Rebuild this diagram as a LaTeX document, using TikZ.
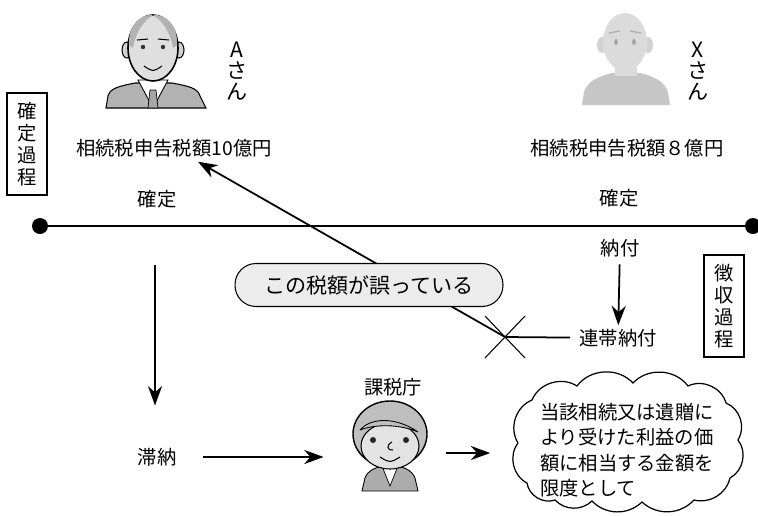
\documentclass[tikz,border=0pt]{standalone}
\usepackage{fontspec}
\setmainfont{Noto Sans CJK JP}
\usetikzlibrary{arrows.meta,positioning}

\tikzset{
  lbl/.style={font=\fontsize{11}{13}\selectfont, inner sep=2pt},
  tate/.style={align=center, font=\fontsize{12}{12}\selectfont, inner sep=0pt},
  tatebox/.style={draw, line width=0.8pt, align=center, minimum width=0.8cm,
    minimum height=2.04cm, inner sep=0pt, font=\fontsize{11}{12.4}\selectfont},
  arr/.style={line width=1pt, -{Stealth[length=11pt, width=8pt, inset=3.5pt]}},
  dot/.style={circle, fill=black, minimum size=0.32cm, inner sep=0pt},
  pill/.style={draw, line width=0.6pt, fill=gray!15, rounded corners=0.42cm,
    minimum width=5.36cm, minimum height=0.86cm, font=\fontsize{12}{14}\selectfont},
  fukidashi/.style={align=left, inner sep=0pt, font=\fontsize{11}{14.5}\selectfont},
}

\begin{document}
\begin{tikzpicture}[x=0.02cm, y=-0.02cm]
  \useasboundingbox (0,0) rectangle (758,515);

  % --- A san
  \fill[gray!60, draw=black, line width=0.6pt] (106,108) -- (108,96) .. controls (110,88) and (120,86) .. (135,83)
    -- (172,83) .. controls (188,86) and (198,88) .. (200,96) -- (206,108) -- cycle;
  \fill[white, draw=black, line width=0.5pt] (138,80) -- (153,108) -- (168,80) -- cycle;
  \fill[gray!70, draw=black, line width=0.4pt] (150,90) -- (156,90) -- (158,108) -- (148,108) -- cycle;
  \draw[fill=gray!35, line width=0.6pt] (127,50) ellipse (5 and 8); \draw[fill=gray!35, line width=0.6pt] (179,50) ellipse (5 and 8);
  \draw[fill=gray!25, line width=0.9pt] (153,48) ellipse (25 and 33);
  \fill[gray!60] (129,45) .. controls (128,25) and (140,14) .. (153,15) .. controls (145,20) and (136,30) .. (133,48) -- cycle;
  \fill[gray!60] (177,45) .. controls (178,25) and (166,14) .. (153,15) .. controls (161,20) and (170,30) .. (173,48) -- cycle;
  \fill[black!80] (143,47) circle (2.2); \fill[black!80] (163,47) circle (2.2);
  \draw[line width=0.6pt] (137,40) -- (148,39); \draw[line width=0.6pt] (158,39) -- (169,40);
  \draw[line width=0.6pt] (144,66) .. controls (153,72) .. (162,66);
  \node[tate] (nameA) at (237,71) {A\\さ\\ん};

  % --- X san
  \fill[gray!45] (582,105) -- (584,92) .. controls (588,80) and (600,76) .. (612,73)
    -- (640,73) .. controls (652,76) and (664,80) .. (668,92) -- (670,105) -- cycle;
  \fill[gray!28] (615,60) rectangle (637,76);
  \fill[gray!35] (602,45) ellipse (5 and 8); \fill[gray!35] (648,45) ellipse (5 and 8);
  \fill[gray!28] (625,42) ellipse (22 and 29);
  \fill[gray!75] (616,42) ellipse (1.8 and 3); \fill[gray!75] (634,42) ellipse (1.8 and 3);
  \draw[gray!60, line width=0.8pt] (609,33) -- (620,31); \draw[gray!60, line width=0.8pt] (630,31) -- (641,33);
  \node[tate] (nameX) at (698,71) {X\\さ\\ん};

  % --- kazeicho
  \fill[gray!65, draw=black, line width=0.5pt] (362,491) -- (365,478) .. controls (368,470) and (375,468) .. (382,466)
    -- (398,466) .. controls (405,468) and (412,470) .. (415,478) -- (418,491) -- cycle;
  \fill[white, draw=black, line width=0.4pt] (382,466) -- (390,486) -- (398,466) -- cycle;
  \draw[fill=gray!50, line width=0.8pt] (390,434) ellipse (37 and 33);
  \draw[fill=gray!22, line width=0.6pt] (390,446) ellipse (29 and 23);
  \draw[fill=gray!50, line width=0.5pt] (360,430) .. controls (370,418) and (395,416) .. (418,432) .. controls (400,424) and (375,424) .. (360,430);
  \fill[black!85] (373,440) circle (3); \fill[black!85] (406,440) circle (3);
  \draw[line width=0.6pt] (392,442) .. controls (386,445) and (387,451) .. (393,450);
  \draw[line width=0.6pt] (380,457) .. controls (390,463) .. (400,457);
  \node[minimum width=1.8cm, minimum height=1.8cm] (kazei) at (390,445) {};
  \node[lbl] (kazeiLbl) at (393,387) {課税庁};

  % --- kakutei line
  \node[tatebox] (kakuteiKatei) at (27,144) {確\\定\\過\\程};
  \node[tatebox] (choshuKatei) at (724,306) {徴\\収\\過\\程};
  \node[lbl] (taxA) at (174,148) {相続税申告税額10億円};
  \node[lbl] (taxX) at (627,148) {相続税申告税額８億円};
  \node[lbl] (kakuteiA) at (157,199) {確定};
  \node[lbl] (kakuteiX) at (619,198) {確定};
  \node[dot] (dotL) at (40,226) {};
  \node[dot] (dotR) at (753,226) {};
  \draw[line width=1.5pt] (dotL) -- (dotR);

  % --- choshu side
  \node[lbl] (nofu) at (620,248) {納付};
  \node[lbl] (rentai) at (618,338) {連帯納付};
  \draw[arr, shorten <=2pt] (nofu) -- (rentai);
  \coordinate (cut) at (505,337);
  \draw[line width=1pt, shorten >=3pt] (cut) -- (rentai);
  \draw[line width=0.6pt] (cut) +(-20,-21) -- +(20,21) (cut) +(-20,21) -- +(20,-21);
  \draw[arr, shorten >=1pt] (cut) -- (taxA);
  \node[pill] (ayamari) at (369,285) {この税額が誤っている};

  % --- tainou
  \coordinate (splitA) at (155,265);
  \node[lbl] (tainou) at (157,457) {滞納};
  \draw[arr, shorten >=22pt] (splitA) -- (splitA |- tainou.north);
  \draw[arr, shorten <=13pt, shorten >=12pt] (tainou) -- (kazei.west |- tainou);

  % cloud round the limit text
  \draw[line width=0.7pt] (518,443) to[bend left=50] (532,400) to[bend left=50] (577,386)
    to[bend left=50] (633,383) to[bend left=50] (688,386) to[bend left=50] (726,403)
    to[bend left=50] (738,440) to[bend left=50] (730,478) to[bend left=45] (694,500)
    to[bend left=45] (642,502) to[bend left=45] (592,501) to[bend left=45] (555,500)
    to[bend left=50] (527,483) to[bend left=50] (518,443);
  \coordinate (cloudW) at (513,453);
  \node[fukidashi] (gendo) at (627,450) {当該相続又は遺贈に\\より受けた利益の価\\額に相当する金額を\\限度として};
  \draw[arr, shorten <=6pt, shorten >=13pt] (kazei.east |- cloudW) -- (cloudW);
\end{tikzpicture}
\end{document}
